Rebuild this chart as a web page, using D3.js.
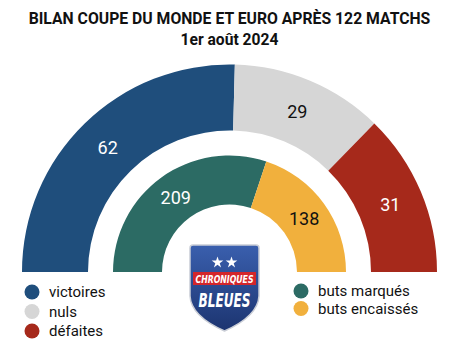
<!DOCTYPE html>
<html>
<head>
<meta charset="utf-8">
<script src="https://cdn.jsdelivr.net/npm/d3@7"></script>
<style>
  body { margin: 0; background: #fff; }
  svg { display: block; }
</style>
</head>
<body>
<div id="chart"></div>
<script>
// data
const resultLabels = ["victoires", "nuls", "défaites"]
const resultValues = [62, 29, 31]
const resultColors = ["#1f4e7c", "#d6d6d6", "#a6291b"]
const resultText = ["#fff", "#111", "#fff"]

const goalLabels = ["buts marqués", "buts encaissés"]
const goalValues = [209, 138]
const goalColors = ["#2c6b64", "#f1b03d"]
const goalText = ["#fff", "#111"]

const title = "BILAN COUPE DU MONDE ET EURO APRÈS 122 MATCHS"
const subtitle = "1er août 2024"

const width = 450, height = 350
const cx = 229.5, cy = 272

const svg = d3.select("#chart").append("svg")
    .attr("width", width)
    .attr("height", height)

// scale the font size so the text spans the wanted width
function fitSize(sel, w, size) {
    const len = sel.node().getComputedTextLength()
    if (len > 0) sel.style("font-size", (size * w / len).toFixed(2) + "px")
}

// title
const t1 = svg.append("text")
    .attr("x", cx).attr("y", 23.5)
    .attr("text-anchor", "middle")
    .style("font-family", "Roboto")
    .style("font-weight", "bold")
    .style("font-size", "16px")
    .attr("fill", "#111")
    .text(title)
fitSize(t1, 402, 16)

const t2 = svg.append("text")
    .attr("x", cx).attr("y", 45)
    .attr("text-anchor", "middle")
    .style("font-family", "Roboto")
    .style("font-weight", "bold")
    .style("font-size", "15px")
    .attr("fill", "#111")
    .text(subtitle)
fitSize(t2, 98, 15)

// half donut helper
function halfRing(values, colors, textColors, inner, outer) {
    const pie = d3.pie().sort(null)
        .startAngle(-Math.PI / 2)
        .endAngle(Math.PI / 2)
    const arc = d3.arc().innerRadius(inner).outerRadius(outer)
    const arcs = pie(values)

    const g = svg.append("g")
        .attr("transform", "translate(" + cx + "," + cy + ")")

    g.selectAll("path")
        .data(arcs)
        .enter()
        .append("path")
        .attr("d", arc)
        .attr("fill", (d, i) => colors[i])

    g.selectAll("text")
        .data(arcs)
        .enter()
        .append("text")
        .attr("transform", d => "translate(" + arc.centroid(d) + ")")
        .attr("text-anchor", "middle")
        .attr("dy", "0.36em")
        .style("font-family", "Roboto")
        .style("font-size", "18px")
        .attr("fill", (d, i) => textColors[i])
        .text(d => d.data)
}

halfRing(resultValues, resultColors, resultText, 141.5, 207.5)
halfRing(goalValues, goalColors, goalText, 67.5, 116.5)

// white cover below the baseline
svg.append("rect")
    .attr("x", 0).attr("y", cy)
    .attr("width", width).attr("height", height - cy)
    .attr("fill", "#fff")

// legends
function legend(labels, colors, x, y0, step) {
    const g = svg.selectAll(null)
        .data(labels)
        .enter()
        .append("g")
        .attr("transform", (d, i) => "translate(" + x + "," + (y0 + i * step) + ")")
    g.append("circle")
        .attr("r", 7.5)
        .attr("fill", (d, i) => colors[i])
    g.append("text")
        .attr("x", 17)
        .attr("dy", "0.35em")
        .style("font-family", "Roboto")
        .style("font-size", "15px")
        .attr("fill", "#111")
        .text(d => d)
}
legend(resultLabels, resultColors, 32, 292, 19.5)
legend(goalLabels, goalColors, 301, 291, 17.5)

// logo
const defs = svg.append("defs")
const grad = defs.append("linearGradient")
    .attr("id", "shieldGrad")
    .attr("x1", 0).attr("y1", 0).attr("x2", 0).attr("y2", 1)
grad.append("stop").attr("offset", "0%").attr("stop-color", "#3a5fae")
grad.append("stop").attr("offset", "100%").attr("stop-color", "#1c3470")

const logo = svg.append("g")
logo.append("path")
    .attr("d", "M193,245 L256,245 Q259,245 259,248 L259,296 Q258,316 224.5,331 Q191,316 190,296 L190,248 Q190,245 193,245 Z")
    .attr("fill", "url(#shieldGrad)")
    .attr("stroke", "#c9cdd6")
    .attr("stroke-width", 1.5)

const star = d3.symbol().type(d3.symbolStar).size(42)
;[217.5, 231.5].forEach(x => {
    logo.append("path")
        .attr("d", star())
        .attr("transform", "translate(" + x + ",262.5)")
        .attr("fill", "#fff")
})

logo.append("rect")
    .attr("x", 193).attr("y", 272)
    .attr("width", 63).attr("height", 13)
    .attr("fill", "#d3262b")

const c1 = logo.append("text")
    .attr("x", 224.5).attr("y", 282.5)
    .attr("text-anchor", "middle")
    .style("font-family", "'DejaVu Sans Condensed', 'DejaVu Sans'")
    .style("font-weight", "bold")
    .style("font-style", "italic")
    .style("font-size", "11px")
    .attr("fill", "#fff")
    .text("CHRONIQUES")
    .attr("textLength", 58)
    .attr("lengthAdjust", "spacingAndGlyphs")

const c2 = logo.append("text")
    .attr("x", 224.5).attr("y", 307)
    .attr("text-anchor", "middle")
    .style("font-family", "'DejaVu Sans Condensed', 'DejaVu Sans'")
    .style("font-weight", "bold")
    .style("font-style", "italic")
    .style("font-size", "20px")
    .attr("fill", "#fff")
    .text("BLEUES")
    .attr("textLength", 52)
    .attr("lengthAdjust", "spacingAndGlyphs")
</script>
</body>
</html>
